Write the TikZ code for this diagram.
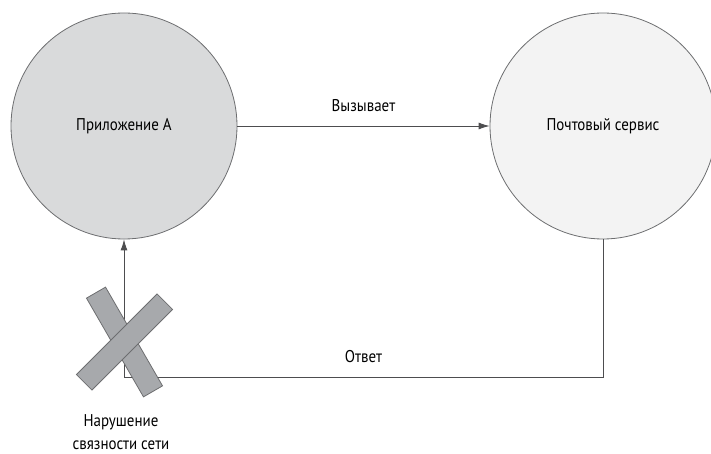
\documentclass[tikz,border=0pt]{standalone}
\usepackage{fontspec}
\setmainfont{PT Sans}[FakeStretch=0.88]
\usetikzlibrary{arrows.meta}
\definecolor{appfill}{HTML}{D9DADB}
\definecolor{mailfill}{HTML}{F3F3F3}
\definecolor{edge}{HTML}{6D6E70}
\definecolor{wire}{HTML}{4D4D4F}
\definecolor{barfill}{HTML}{A7A9AC}
\begin{document}
\begin{tikzpicture}[x=1pt,y=-1pt,font=\fontsize{17}{23}\selectfont,
  svc/.style={circle,draw=edge,line width=0.8pt,minimum size=226pt,inner sep=0pt},
  wireline/.style={draw=wire,line width=0.9pt},
  tip/.style={-{Latex[length=11pt,width=7pt]}},
  bar/.style={rectangle,draw=edge,fill=barfill,line width=0.8pt,minimum width=114pt,minimum height=22pt,inner sep=0pt}]
\useasboundingbox (0,0) rectangle (711,454);
\node[svc,fill=appfill] (app) at (124,126){Приложение А};
\node[svc,fill=mailfill] (mail) at (603,126){Почтовый сервис};
\coordinate (turn) at (124,377);
\draw[wireline,tip] (app) -- (mail) node[midway,above=11pt]{Вызывает};
\draw[wireline,tip] (mail.south) |- (turn) node[pos=0.75,above=11pt]{Ответ} -- (app.south);
% broken link
\node[bar,rotate=-60] (cut1) at (124.5,342){};
\node[bar,rotate=45] (cut2) at (124.5,342){};
\node[align=center] (cutlabel) at (121,432){Нарушение\\связности сети};
\end{tikzpicture}
\end{document}
